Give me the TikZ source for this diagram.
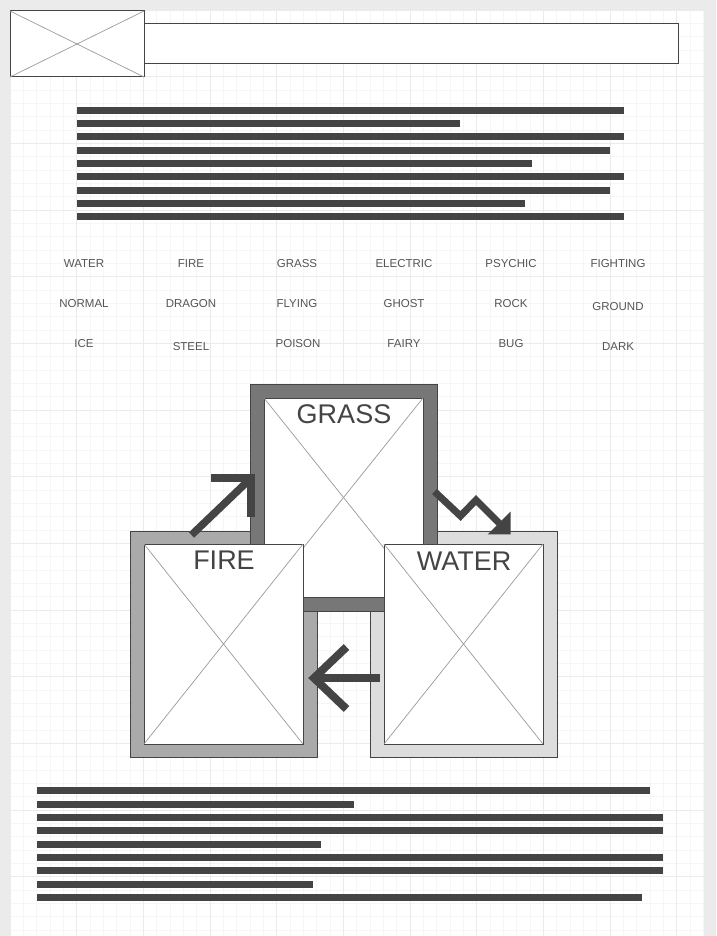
\documentclass[tikz,border=0pt]{standalone}
\usepackage{fontspec}
\setmainfont{Liberation Sans}
\definecolor{outbg}{HTML}{EBEBEB}
\definecolor{gridminor}{HTML}{F6F6F6}
\definecolor{gridmajor}{HTML}{EBEBEB}
\definecolor{dk}{HTML}{444444}
\definecolor{xline}{HTML}{9A9A9A}
\definecolor{grassc}{HTML}{777777}
\definecolor{firec}{HTML}{AAAAAA}
\definecolor{waterc}{HTML}{DDDDDD}
\definecolor{txt}{HTML}{555555}
\tikzset{
  box/.style={draw=dk, line width=1, inner sep=0, outer sep=0, anchor=north west},
  frame/.style={box, fill=#1},
  inbox/.style={box, fill=white},
  xcross/.style={draw=xline, line width=0.7},
  bar/.style={fill=dk},
  typelbl/.style={text=txt, font=\fontsize{11.5}{13}\selectfont, inner sep=0, anchor=center},
  biglbl/.style={text=dk, font=\fontsize{27}{30}\selectfont, inner sep=0, anchor=center},
  thick arrow/.style={draw=dk, line width=7.5, miter limit=10},
}
\begin{document}
\begin{tikzpicture}[x=1pt,y=-1pt]
\useasboundingbox (0,0) rectangle (716,936);
\fill[outbg] (0,0) rectangle (716,936);
\fill[white] (10,10) rectangle (704,936);
% grid
\foreach \i in {0,...,52} \draw[gridminor, line width=0.8] ({10+13.3333*\i},10) -- ({10+13.3333*\i},936);
\foreach \i in {0,...,69} \draw[gridminor, line width=0.8] (10,{10+13.3333*\i}) -- (704,{10+13.3333*\i});
\foreach \i in {0,...,10} \draw[gridmajor, line width=0.8] ({10+66.6667*\i},10) -- ({10+66.6667*\i},936);
\foreach \i in {0,...,13} \draw[gridmajor, line width=0.8] (10,{10+66.6667*\i}) -- (704,{10+66.6667*\i});

% header
\node[inbox, minimum width=134, minimum height=66] (logo) at (10,11) {};
\draw[xcross] (logo.north west) -- (logo.south east);
\draw[xcross] (logo.south west) -- (logo.north east);
\node[inbox, minimum width=534, minimum height=40] (title) at (144,24) {};

% top text lines
\foreach \y/\e in {110.2/624, 123.5/460, 136.9/624, 150.2/610, 163.5/532, 176.9/624, 190.2/610, 203.5/525, 216.9/624}
  \fill[bar] (77,{\y-3.5}) rectangle (\e,{\y+3.5});

% type labels
\foreach \t/\x/\y [count=\n] in {WATER/84/264, FIRE/191/264, GRASS/297/264, ELECTRIC/404/264, PSYCHIC/511/264, FIGHTING/618/264,
  NORMAL/84/304, DRAGON/191/304, FLYING/297/304, GHOST/404/304, ROCK/511/304, GROUND/618/307,
  ICE/84/344, STEEL/191/347, POISON/298/344, FAIRY/404/344, BUG/511/344, DARK/618/347}
  \node[typelbl] (type\n) at (\x,\y) {\t};

% outer frames
\node[frame=firec, minimum width=187, minimum height=226] (fireF) at (130,531) {};
\node[frame=waterc, minimum width=187, minimum height=226] (waterF) at (370,531) {};
\node[frame=grassc, minimum width=187, minimum height=227] (grassF) at (250,384) {};
\node[inbox, minimum width=159, minimum height=199] (grassI) at (264,398) {};
\draw[xcross] (grassI.north west) -- (grassI.south east);
\draw[xcross] (grassI.south west) -- (grassI.north east);
\node[inbox, minimum width=159, minimum height=200] (fireI) at (144,544) {};
\draw[xcross] (fireI.north west) -- (fireI.south east);
\draw[xcross] (fireI.south west) -- (fireI.north east);
\node[inbox, minimum width=159, minimum height=200] (waterI) at (384,544) {};
\draw[xcross] (waterI.north west) -- (waterI.south east);
\draw[xcross] (waterI.south west) -- (waterI.north east);

\node[biglbl] (grassL) at (344,414) {GRASS};
\node[biglbl] (fireL) at (224,560.5) {FIRE};
\node[biglbl] (waterL) at (464,561) {WATER};

% arrows
\coordinate (a1s) at (191.5,535);
\coordinate (a1c) at (251,478);
\draw[thick arrow] (a1s) -- (248.5,480.5);
\draw[thick arrow] (211,478) -- (a1c) -- (251,517);

\coordinate (a2s) at (434.5,491.5);
\draw[thick arrow, line width=7] (a2s) -- (460.5,516) -- (476,500) -- (501,525);
\fill[dk] (487.7,534.3) -- (510.5,534.3) -- (510.5,511.5) -- cycle;

\coordinate (a3s) at (380,678);
\coordinate (a3c) at (314,678);
\draw[thick arrow, line width=8.5] (a3s) -- (317,678);
\draw[thick arrow, line width=8] (346.5,647) -- (a3c) -- (346.5,709);

% bottom text lines
\foreach \y/\e in {790.3/650, 804.3/354, 817.3/663, 830.3/663, 844.3/321, 857.3/663, 870.3/663, 884.3/313, 897.3/642}
  \fill[bar] (37,{\y-3.4}) rectangle (\e,{\y+3.4});
\end{tikzpicture}
\end{document}
